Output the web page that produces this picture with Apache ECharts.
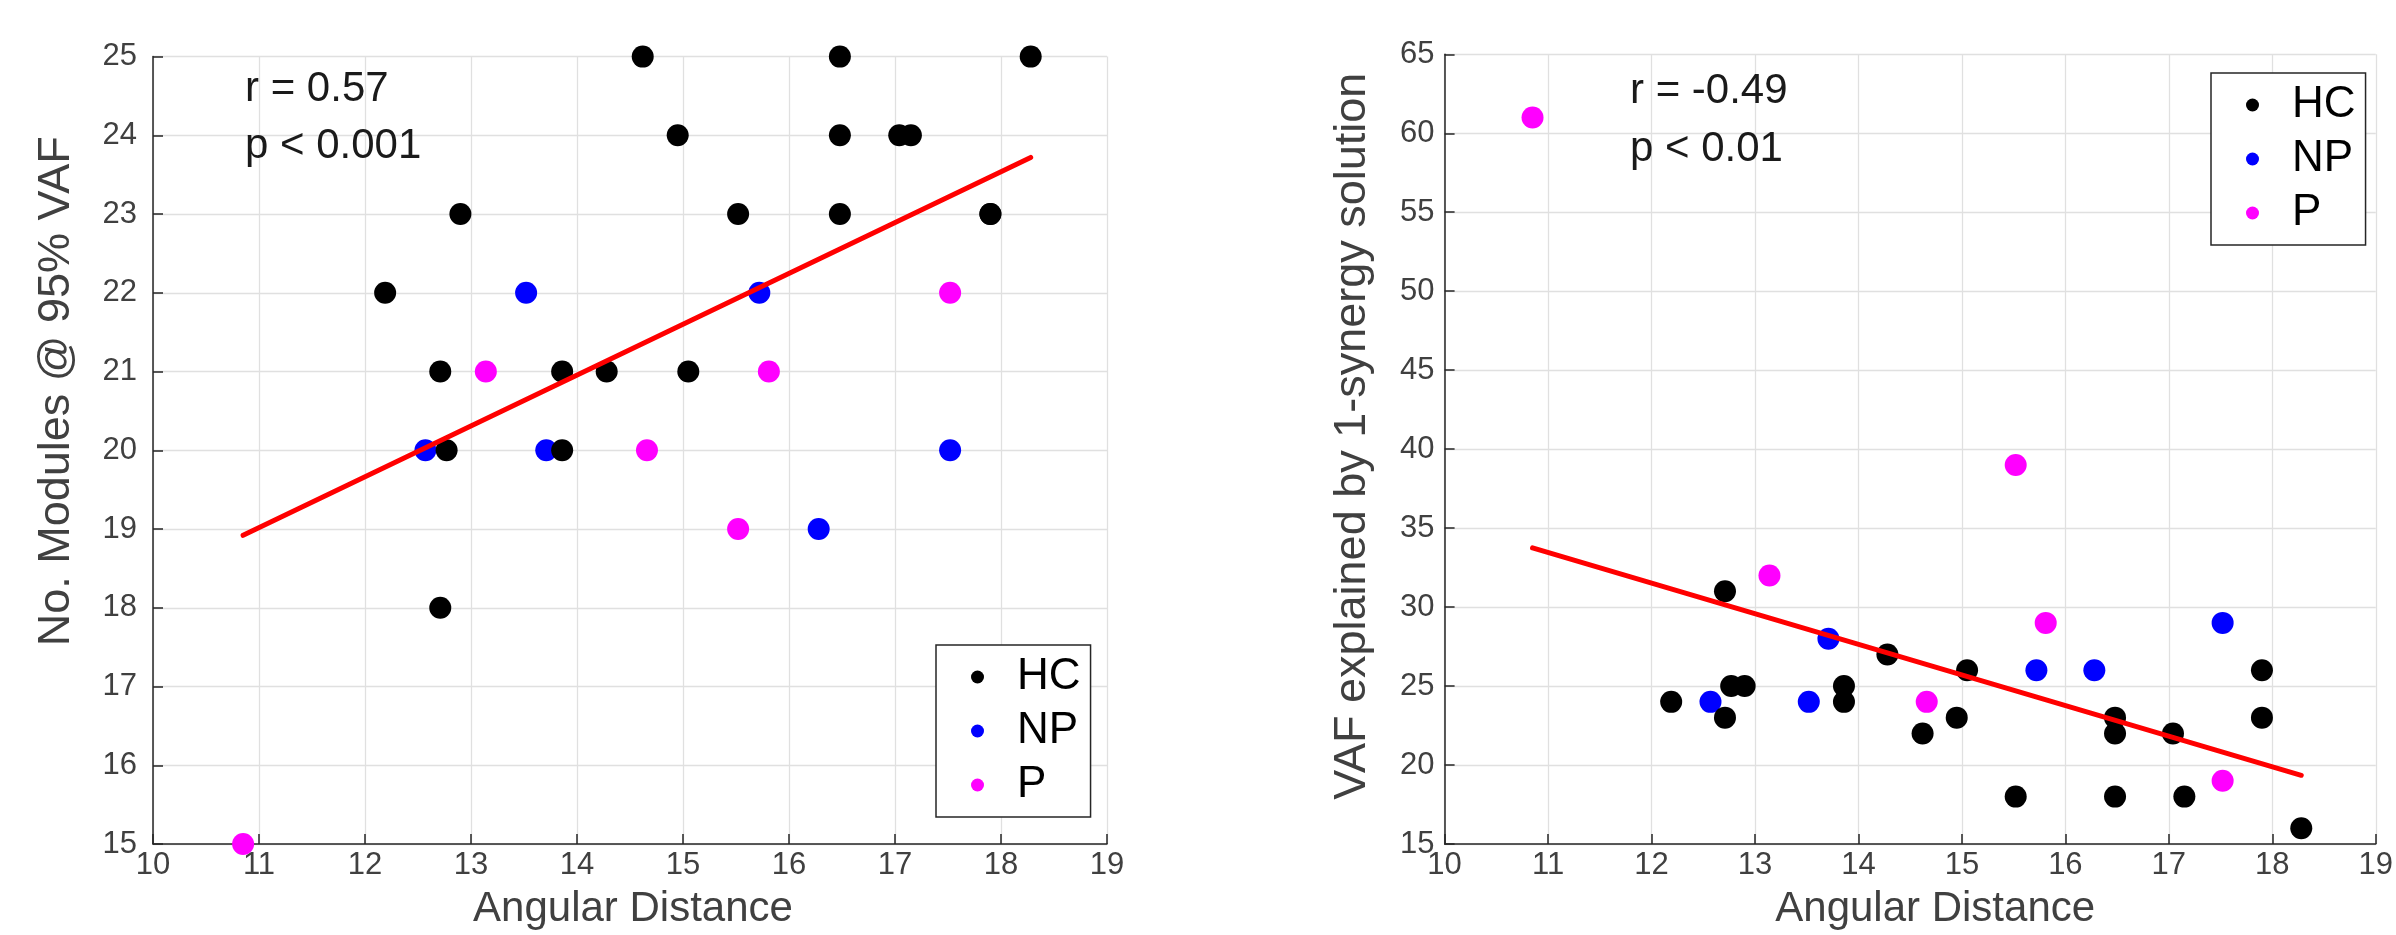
<!DOCTYPE html>
<html>
<head>
<meta charset="utf-8">
<script src="https://cdn.jsdelivr.net/npm/echarts@6/dist/echarts.min.js"></script>
<style>
html,body{margin:0;padding:0;background:#fff;}
#chart{width:2396px;height:935px;}
</style>
</head>
<body>
<div id="chart"></div>
<script>
// ---- data ----
const groupNames = ['HC', 'NP', 'P'];
const xTickRange = [10, 19];
const leftYRange = [15, 25];
const rightYRange = [15, 65];

const hcAngle   = [12.19, 12.71, 12.71, 12.77, 12.90, 13.86, 13.86, 14.28, 14.62, 14.95, 15.05, 15.52, 16.48, 16.48, 16.48, 17.04, 17.15, 17.90, 17.90, 18.28];
const hcModules = [22, 21, 18, 20, 23, 21, 20, 21, 25, 24, 21, 23, 25, 24, 23, 24, 24, 23, 23, 25];
const hcVaf     = [24, 31, 23, 25, 25, 25, 24, 27, 22, 23, 26, 18, 23, 22, 18, 22, 18, 26, 23, 16];

const npAngle   = [12.57, 13.52, 13.71, 15.72, 16.28, 17.52];
const npModules = [20, 22, 20, 22, 19, 20];
const npVaf     = [24, 24, 28, 26, 26, 29];

const pAngle    = [10.85, 13.14, 14.66, 15.52, 15.81, 17.52];
const pModules  = [15, 21, 20, 19, 21, 22];
const pVaf      = [61, 32, 24, 39, 29, 19];

const fitAngle   = [10.85, 18.28];
const fitModules = [18.92, 23.72];
const fitVaf     = [33.75, 19.35];

const leftStats  = ['r = 0.57', 'p < 0.001'];
const rightStats = ['r = -0.49', 'p < 0.01'];

const xTitle = 'Angular Distance';
const leftYTitle = 'No. Modules @ 95% VAF';
const rightYTitle = 'VAF explained by 1-synergy solution';

// ---- build ----
const FONT = '"Liberation Sans", Arial, Helvetica, sans-serif';
const AXIS_COLOR = '#262626';
const LABEL_COLOR = '#404040';
const GRID_COLOR = '#e0e0e0';
const groupColors = { HC: '#000000', NP: '#0000ff', P: '#ff00ff' };

function zip(a, b) { return a.map((v, i) => [v, b[i]]); }

function xAxisCfg(gridIndex, namePad) {
  return {
    type: 'value', gridIndex,
    min: xTickRange[0], max: xTickRange[1], interval: 1,
    name: xTitle, nameLocation: 'middle', nameGap: 44,
    nameTextStyle: { fontFamily: FONT, fontSize: 42, color: LABEL_COLOR, padding: namePad },
    axisLine: { show: true, onZero: false, lineStyle: { color: AXIS_COLOR, width: 1.5 } },
    axisTick: { show: true, inside: true, length: 10, lineStyle: { color: AXIS_COLOR, width: 1.5 } },
    axisLabel: { fontFamily: FONT, fontSize: 31, color: LABEL_COLOR, margin: 6, showMinLabel: true, showMaxLabel: true },
    splitLine: { show: true, lineStyle: { color: GRID_COLOR, width: 1.3 } }
  };
}
function yAxisCfg(gridIndex, range, interval, name, nameGap, namePad, labelMargin) {
  return {
    type: 'value', gridIndex,
    min: range[0], max: range[1], interval,
    name, nameLocation: 'middle', nameGap, nameRotate: 90,
    nameTextStyle: { fontFamily: FONT, fontSize: 45, color: LABEL_COLOR, padding: namePad },
    axisLine: { show: true, onZero: false, lineStyle: { color: AXIS_COLOR, width: 1.5 } },
    axisTick: { show: true, inside: true, length: 10, lineStyle: { color: AXIS_COLOR, width: 1.5 } },
    axisLabel: { fontFamily: FONT, fontSize: 31, color: LABEL_COLOR, margin: labelMargin, showMinLabel: true, showMaxLabel: true },
    splitLine: { show: true, lineStyle: { color: GRID_COLOR, width: 1.3 } }
  };
}
function scatter(name, xi, yi, xs, ys, z) {
  return {
    type: 'scatter', name, xAxisIndex: xi, yAxisIndex: yi,
    data: zip(xs, ys), symbol: 'circle', symbolSize: 22, clip: false, z,
    itemStyle: { color: groupColors[name], opacity: 1 },
    emphasis: { disabled: true }
  };
}
function fitLine(xi, yi, xs, ys) {
  return {
    type: 'line', xAxisIndex: xi, yAxisIndex: yi, data: zip(xs, ys),
    symbol: 'none', silent: true, z: 10,
    lineStyle: { color: '#ff0000', width: 5, cap: 'round' }
  };
}
function legendCfg(left, top) {
  return {
    data: groupNames, orient: 'vertical', left, top,
    icon: 'circle', itemWidth: 13, itemHeight: 13, itemGap: 10,
    padding: [10, 10, 10, 35],
    borderColor: AXIS_COLOR, borderWidth: 1.5, backgroundColor: '#ffffff',
    selectedMode: false,
    textStyle: { fontFamily: FONT, fontSize: 44, lineHeight: 44, color: '#000', padding: [0, 0, 0, 28] }
  };
}
function statText(x, y, txt) {
  return { type: 'text', x, y, z: 50,
    style: { text: txt, fontFamily: FONT, fontSize: 42, fill: '#1a1a1a', textAlign: 'left', textVerticalAlign: 'middle' } };
}

const chart = echarts.init(document.getElementById('chart'), null, { renderer: 'canvas' });
chart.setOption({
  animation: false,
  backgroundColor: '#ffffff',
  grid: [
    { left: 153, top: 56.6, width: 954, height: 790.2 },
    { left: 1444.6, top: 54.3, width: 934.4, height: 792.4 }
  ],
  xAxis: [xAxisCfg(0, [0, 0, 0, 6]), xAxisCfg(1, [0, 0, 0, 50])],
  yAxis: [
    yAxisCfg(0, leftYRange, 1, leftYTitle, 74, [0, 0, 0, 118], 16),
    yAxisCfg(1, rightYRange, 5, rightYTitle, 70, [0, 0, 0, 26], 10)
  ],
  legend: [legendCfg(936, 645), legendCfg(2211, 73)],
  series: [
    scatter('P', 0, 0, pAngle, pModules, 2),
    scatter('NP', 0, 0, npAngle, npModules, 3),
    scatter('HC', 0, 0, hcAngle, hcModules, 4),
    fitLine(0, 0, fitAngle, fitModules),
    scatter('P', 1, 1, pAngle, pVaf, 2),
    scatter('NP', 1, 1, npAngle, npVaf, 3),
    scatter('HC', 1, 1, hcAngle, hcVaf, 4),
    fitLine(1, 1, fitAngle, fitVaf)
  ],
  graphic: [
    statText(245, 89, leftStats[0]),
    statText(245, 146, leftStats[1]),
    statText(1630, 91, rightStats[0]),
    statText(1630, 149, rightStats[1])
  ]
});
</script>
</body>
</html>
